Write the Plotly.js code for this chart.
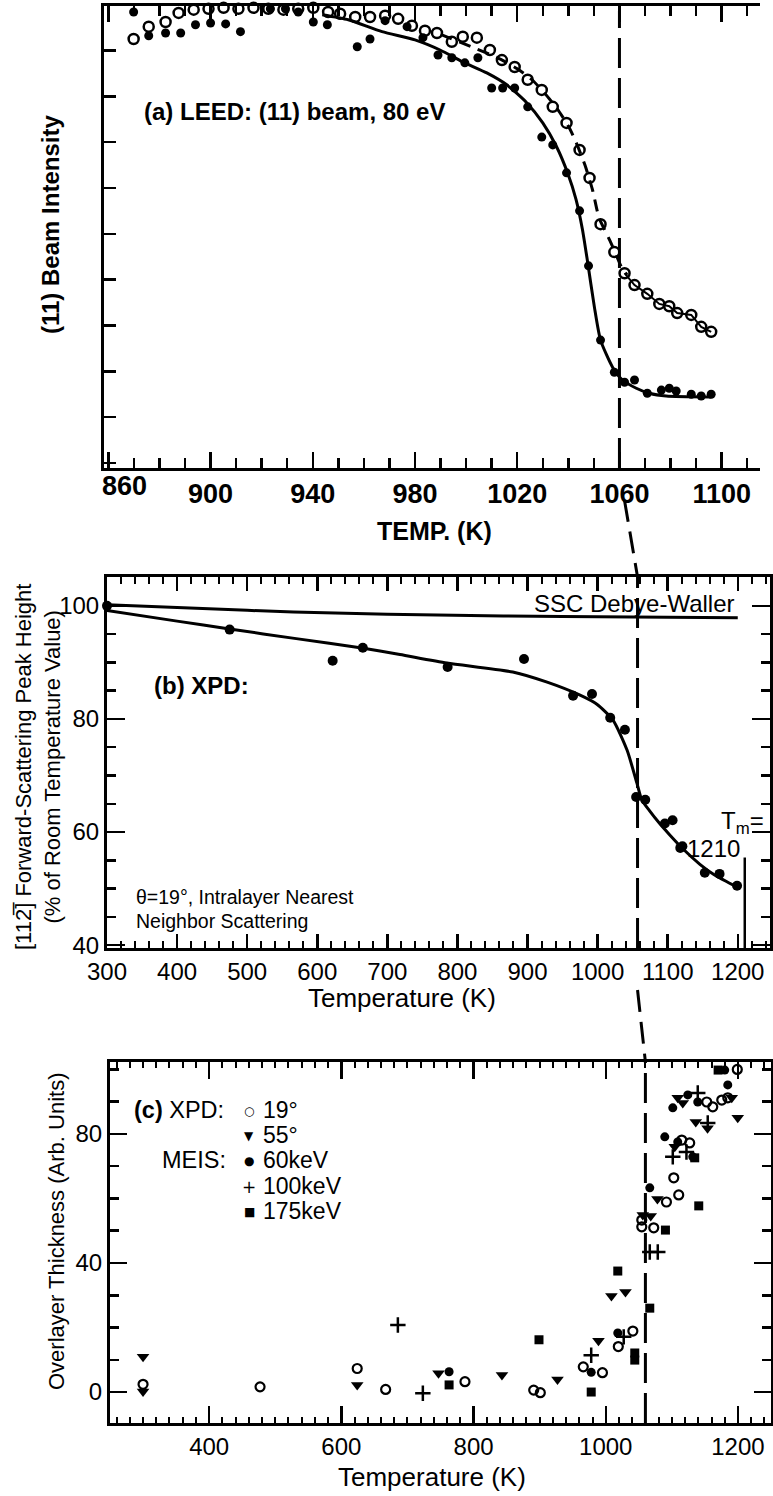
<!DOCTYPE html>
<html><head><meta charset="utf-8">
<script src="https://cdn.plot.ly/plotly-3.0.1.min.js"></script>
<style>html,body{margin:0;padding:0;background:#fff}#chart{width:773px;height:1496px}</style>
</head><body><div id="chart"></div>
<script>
// ---------- Panel (a) LEED (11) beam ----------
const leedTicks = [860, 900, 940, 980, 1020, 1060, 1100];
const leedTickText = ['', '900', '940', '980', '1020', '1060', '1100'];
const leedOpenT = [869.9, 875.8, 882.4, 887.5, 893.4, 899.2, 905.1, 910.9, 916.8, 922.6, 928.5, 934.3, 940.2, 946.0, 950.7, 956.6, 962.4, 968.3, 973.4, 978.8, 983.9, 988.6, 994.4, 998.7, 1004.2, 1009.3, 1014.0, 1019.0, 1024.1, 1029.6, 1033.9, 1039.3, 1044.4, 1048.3, 1052.6, 1058.0, 1062.0, 1065.9, 1070.9, 1075.6, 1079.5, 1082.6, 1088.1, 1092.0, 1095.9];
const leedOpenI = [8.25, 8.52, 8.62, 8.82, 8.89, 8.91, 8.93, 8.91, 8.93, 8.91, 8.89, 8.91, 8.93, 8.84, 8.80, 8.73, 8.73, 8.76, 8.69, 8.54, 8.43, 8.38, 8.19, 8.30, 8.28, 8.01, 7.79, 7.64, 7.36, 7.14, 6.77, 6.42, 5.83, 5.22, 4.21, 3.60, 3.14, 2.88, 2.69, 2.47, 2.42, 2.27, 2.23, 1.97, 1.86];
const leedFilledT = [869.9, 875.8, 882.4, 888.3, 894.1, 900.0, 905.9, 911.7, 923.4, 929.3, 934.3, 940.2, 945.7, 957.4, 962.4, 968.3, 976.9, 983.1, 989.0, 994.4, 999.5, 1004.6, 1010.0, 1014.3, 1019.0, 1024.1, 1029.6, 1033.9, 1039.3, 1044.4, 1047.9, 1052.6, 1058.0, 1062.0, 1065.9, 1070.9, 1076.4, 1079.5, 1082.2, 1088.1, 1092.0, 1095.9];
const leedFilledI = [8.84, 8.32, 8.38, 8.38, 8.56, 8.60, 8.58, 8.41, 8.91, 8.91, 8.84, 8.62, 8.56, 8.08, 8.25, 8.65, 8.52, 8.28, 7.90, 7.84, 7.73, 7.84, 7.18, 7.18, 7.18, 6.77, 6.11, 5.94, 5.33, 4.50, 3.30, 1.68, 0.98, 0.76, 0.81, 0.52, 0.59, 0.63, 0.57, 0.50, 0.46, 0.50];
const leedFitT = [943.7, 953.9, 967.1, 980.0, 989.8, 998.7, 1008.1, 1015.9, 1023.7, 1030.0, 1035.4, 1039.7, 1043.0, 1045.5, 1047.5, 1050.2, 1052.6, 1057.3, 1061.2, 1066.6, 1071.7, 1078.3, 1095.9];
const leedFitI = [8.78, 8.67, 8.41, 8.23, 8.01, 7.75, 7.51, 7.25, 6.86, 6.42, 5.90, 5.33, 4.75, 4.10, 3.40, 2.40, 1.68, 1.09, 0.81, 0.63, 0.52, 0.46, 0.44];
const leedDashT = [990, 1002, 1012, 1020, 1026, 1031, 1036, 1040, 1043, 1046.5, 1049.5, 1052, 1055, 1057.5, 1061, 1063];
const leedDashI = [8.35, 8.08, 7.85, 7.6, 7.35, 7.05, 6.7, 6.35, 6.0, 5.5, 4.95, 4.35, 4.0, 3.7, 3.25, 3.1];
const leedTc = 1060;

// ---------- Panel (b) XPD peak height ----------
const xpdTicksX = [300, 400, 500, 600, 700, 800, 900, 1000, 1100, 1200];
const xpdTicksY = [40, 60, 80, 100];
const xpdT = [300, 475, 622, 665, 786, 895, 965, 992, 1018, 1039, 1055, 1068, 1096, 1107, 1118, 1121, 1153, 1174, 1199];
const xpdH = [100.0, 95.8, 90.3, 92.6, 89.2, 90.6, 84.1, 84.4, 80.2, 78.1, 66.2, 65.7, 61.5, 62.1, 57.2, 57.5, 52.8, 52.6, 50.5];
const xpdFitT = [300, 400, 475, 570, 666, 718, 785, 879, 928, 975, 999, 1022, 1042, 1056, 1063, 1074, 1088, 1103, 1122, 1146, 1167, 1200];
const xpdFitH = [99.2, 97.3, 95.9, 94.2, 92.5, 91.4, 89.9, 88.3, 86.5, 84.2, 82.6, 79.8, 74.5, 68.7, 65.7, 63.8, 61.6, 59.5, 57.0, 54.3, 52.4, 50.2];
const dwT = [300, 500, 700, 950, 1200];
const dwH = [100.2, 99.2, 98.5, 98.1, 97.9];
const meltT = 1210;
const xpdTc = 1057;

// ---------- Panel (c) Overlayer thickness ----------
const thkTicksX = [400, 600, 800, 1000, 1200];
const thkMidTicksX = [300, 500, 700, 900, 1100];
const thkTicksY = [0, 40, 80];
const c19T = [300, 477, 624, 667, 787, 891, 901, 966, 995, 1019, 1041, 1054.5, 1054.5, 1072.6, 1091.8, 1102.9, 1110.4, 1115, 1127, 1152.8, 1161.9, 1175.5, 1184.6, 1199];
const c19V = [2.4, 1.6, 7.3, 0.8, 3.2, 0.6, -0.2, 7.8, 6.0, 14.1, 18.9, 53.3, 51.2, 50.9, 58.9, 66.4, 61.1, 78.1, 77.2, 89.9, 88.4, 90.5, 91.2, 100];
const c55T = [300, 300, 624, 747, 843, 927, 989, 1008.6, 1029.8, 1056, 1068, 1078.2, 1104.4, 1108.9, 1116.5, 1136.2, 1154, 1190.6, 1199.7];
const c55V = [10.9, 0.2, 2.2, 5.8, 5.3, 3.9, 15.9, 29.8, 31.0, 54.9, 54.6, 59.8, 76.0, 91.2, 89.6, 83.7, 81.8, 91.2, 85.0];
const c60T = [763, 978, 1018.2, 1066.6, 1089.3, 1101.4, 1108.9, 1124.1, 1131.6, 1139.2, 1180, 1184.6];
const c60V = [6.3, 6.1, 18.3, 63.3, 79.1, 88.1, 77.5, 92.1, 72.9, 89.9, 99.8, 95.2];
const c100T = [685.5, 723.3, 978, 1027.2, 1066.6, 1078.7, 1101.4, 1122.1, 1139.2, 1154.3];
const c100V = [20.8, -0.4, 11.4, 17.1, 43.4, 43.4, 72.9, 74.4, 92.7, 83.4];
const c175T = [763, 899, 978, 1018.2, 1043.9, 1043.9, 1066.6, 1090.3, 1134.6, 1140.7, 1170];
const c175V = [2.2, 16.2, 0.0, 37.5, 12.1, 9.9, 26.0, 50.2, 72.6, 57.7, 99.8];
const thkTc = 1060;

// ---------- layout geometry (pixels) ----------
const W = 773, H = 1496;
const A = {l: 104, r: 760, t: 6, b: 468, x0: 858.3, x1: 1115, y0: -1.11, y1: 8.97};
const B = {l: 107, r: 770, t: 577, b: 948, x0: 300, x1: 1246, y0: 39.5, y1: 105.1};
const C = {l: 110, r: 771, t: 1062, b: 1423, x0: 250, x1: 1250, y0: -9.6, y1: 102.3};
const FONT = 'Liberation Sans, Arial, Helvetica, sans-serif';
const px = v => v / W, py = v => 1 - v / H;
const dx = P => [P.l / W, P.r / W], dy = P => [1 - P.b / H, 1 - P.t / H];
const xPix = (P, v) => P.l + (v - P.x0) / (P.x1 - P.x0) * (P.r - P.l);

const blk = '#000';
const traces = [
  // panel a
  {x: leedFitT, y: leedFitI, mode: 'lines', line: {color: blk, width: 3, shape: 'spline', smoothing: 0.6}, xaxis: 'x', yaxis: 'y'},
  {x: leedDashT, y: leedDashI, mode: 'lines', line: {color: blk, width: 3, dash: '12px,8px', shape: 'spline', smoothing: 0.6}, xaxis: 'x', yaxis: 'y'},
  {x: leedOpenT.filter(t => t >= 1062), y: leedOpenI.filter((v, i) => leedOpenT[i] >= 1062), mode: 'lines', line: {color: blk, width: 2}, xaxis: 'x', yaxis: 'y'},
  {x: leedOpenT, y: leedOpenI, mode: 'markers', marker: {symbol: 'circle-open', size: 10, color: blk, line: {width: 2.5, color: blk}}, cliponaxis: false, xaxis: 'x', yaxis: 'y'},
  {x: leedFilledT, y: leedFilledI, mode: 'markers', marker: {symbol: 'circle', size: 9, color: blk}, cliponaxis: false, xaxis: 'x', yaxis: 'y'},
  // panel b
  {x: dwT, y: dwH, mode: 'lines', line: {color: blk, width: 3, shape: 'spline'}, xaxis: 'x2', yaxis: 'y2'},
  {x: xpdFitT, y: xpdFitH, mode: 'lines', line: {color: blk, width: 3, shape: 'spline', smoothing: 0.6}, xaxis: 'x2', yaxis: 'y2'},
  {x: xpdT, y: xpdH, mode: 'markers', marker: {symbol: 'circle', size: 10, color: blk}, cliponaxis: false, xaxis: 'x2', yaxis: 'y2'},
  // panel c
  {x: c19T, y: c19V, mode: 'markers', marker: {symbol: 'circle-open', size: 9, color: blk, line: {width: 2.2, color: blk}}, xaxis: 'x3', yaxis: 'y3', cliponaxis: false},
  {x: c55T, y: c55V, mode: 'markers', marker: {symbol: 'triangle-down', size: 11, color: blk}, xaxis: 'x3', yaxis: 'y3', cliponaxis: false},
  {x: c60T, y: c60V, mode: 'markers', marker: {symbol: 'circle', size: 9, color: blk}, xaxis: 'x3', yaxis: 'y3', cliponaxis: false},
  {x: c100T, y: c100V, mode: 'markers', marker: {symbol: 'cross-thin-open', size: 11, color: blk, line: {width: 2.5, color: blk}}, xaxis: 'x3', yaxis: 'y3', cliponaxis: false},
  {x: c175T, y: c175V, mode: 'markers', marker: {symbol: 'square', size: 9, color: blk}, xaxis: 'x3', yaxis: 'y3', cliponaxis: false}
];

const axBase = {showgrid: false, zeroline: false, ticks: 'inside', tickcolor: blk, linecolor: blk, showline: true, linewidth: 3, tickwidth: 2.5, fixedrange: true};
const tickF = {family: FONT, size: 24, color: blk};

const layout = {
  width: W, height: H, margin: {l: 0, r: 0, t: 0, b: 0},
  paper_bgcolor: '#fff', plot_bgcolor: '#fff', showlegend: false,
  font: {family: FONT, color: blk, size: 22},
  xaxis: Object.assign({}, axBase, {domain: dx(A), anchor: 'y', range: [A.x0, A.x1], tickmode: 'array', tickvals: leedTicks, ticktext: leedTickText, ticklen: 16, mirror: 'ticks',
    tickfont: {family: FONT, size: 27, weight: 'bold', color: blk},
    minor: {tickmode: 'linear', tick0: 860, dtick: 10, ticks: 'inside', ticklen: 10, tickwidth: 2.5, tickcolor: blk, showgrid: false}}),
  yaxis: Object.assign({}, axBase, {domain: dy(A), anchor: 'x', range: [A.y0, A.y1], tickmode: 'linear', tick0: 0, dtick: 1, ticklen: 12, showticklabels: false}),
  yaxis4: Object.assign({}, axBase, {overlaying: 'y', anchor: 'x', side: 'right', range: [A.y0, A.y1], tickmode: 'linear', tick0: 0, dtick: 1, ticklen: 7, showline: false, showticklabels: false}),
  xaxis2: Object.assign({}, axBase, {domain: dx(B), anchor: 'y2', range: [B.x0, B.x1], tickmode: 'array', tickvals: xpdTicksX, ticklen: 14, mirror: 'ticks',
    tickfont: tickF,
    minor: {tickmode: 'linear', tick0: 300, dtick: 20, ticks: 'inside', ticklen: 7, tickwidth: 2, tickcolor: blk, showgrid: false}}),
  yaxis2: Object.assign({}, axBase, {domain: dy(B), anchor: 'x2', range: [B.y0, B.y1], tickmode: 'array', tickvals: xpdTicksY, ticklen: 18, mirror: 'ticks',
    tickfont: tickF,
    minor: {tickmode: 'linear', tick0: 40, dtick: 5, ticks: 'inside', ticklen: 9, tickwidth: 2.5, tickcolor: blk, showgrid: false}}),
  xaxis3: Object.assign({}, axBase, {domain: dx(C), anchor: 'y3', range: [C.x0, C.x1], tickmode: 'array', tickvals: thkTicksX, ticklen: 17, mirror: 'ticks',
    tickfont: tickF,
    minor: {tickmode: 'linear', tick0: 300, dtick: 20, ticks: 'inside', ticklen: 6, tickwidth: 2, tickcolor: blk, showgrid: false}}),
  xaxis4: Object.assign({}, axBase, {overlaying: 'x3', anchor: 'y3', side: 'bottom', range: [C.x0, C.x1], tickmode: 'array', tickvals: thkMidTicksX, ticklen: 11, showline: false, showticklabels: false}),
  yaxis3: Object.assign({}, axBase, {domain: dy(C), anchor: 'x3', range: [C.y0, C.y1], tickmode: 'array', tickvals: thkTicksY, ticklen: 17, mirror: 'ticks',
    tickfont: tickF,
    minor: {tickmode: 'linear', tick0: 0, dtick: 10, ticks: 'inside', ticklen: 9, tickwidth: 2.5, tickcolor: blk, showgrid: false}}),
  shapes: [
    {type: 'line', xref: 'x', yref: 'y', x0: leedTc, x1: leedTc, y0: A.y0, y1: A.y1 - 0.1, line: {color: blk, width: 3, dash: '30px,10px'}},
    {type: 'line', xref: 'paper', yref: 'paper', x0: px(xPix(A, leedTc) + 5), y0: py(500), x1: px(xPix(B, xpdTc)), y1: py(B.t), line: {color: blk, width: 3, dash: '22px,10px'}},
    {type: 'line', xref: 'x2', yref: 'y2', x0: xpdTc, x1: xpdTc, y0: B.y0, y1: B.y1, line: {color: blk, width: 3, dash: '30px,10px'}},
    {type: 'line', xref: 'paper', yref: 'paper', x0: px(xPix(B, xpdTc)), y0: py(990), x1: px(xPix(C, thkTc)), y1: py(C.t), line: {color: blk, width: 3, dash: '22px,10px'}},
    {type: 'line', xref: 'x3', yref: 'y3', x0: thkTc, x1: thkTc, y0: C.y0, y1: C.y1, line: {color: blk, width: 3, dash: '30px,10px'}},
    {type: 'line', xref: 'x2', yref: 'y2', x0: meltT, x1: meltT, y0: B.y0, y1: 55.5, line: {color: blk, width: 2.5}}
  ],
  annotations: []
};

function ann(text, x, y, opts) {
  layout.annotations.push(Object.assign({text: text, xref: 'paper', yref: 'paper', x: px(x), y: py(y), showarrow: false,
    xanchor: 'center', yanchor: 'middle', font: {family: FONT, size: 24, color: blk}}, opts || {}));
}
// panel a texts
ann('860', 124, 486, {font: {family: FONT, size: 27, weight: 'bold', color: blk}});
ann('(a) LEED: (11) beam, 80 eV', 142, 112, {xanchor: 'left', font: {family: FONT, size: 24, weight: 'bold', color: blk}});
ann('(11) Beam Intensity', 50, 225, {textangle: -90, font: {family: FONT, size: 24, weight: 'bold', color: blk}});
ann('TEMP. (K)', 434, 531, {font: {family: FONT, size: 25, weight: 'bold', color: blk}});
// panel b texts
ann('[11' + '2\u0305' + '] Forward-Scattering Peak Height<br>(% of Room Temperature Value)', 38, 767, {textangle: -90, font: {family: FONT, size: 22, color: blk}});
ann('(b) XPD:', 152, 686, {xanchor: 'left', font: {family: FONT, size: 24, weight: 'bold', color: blk}});
ann('SSC Debye-Waller', 532, 603, {xanchor: 'left'});
ann('\u03b8=19\u00b0, Intralayer Nearest', 134, 897, {xanchor: 'left', font: {family: FONT, size: 19.5, color: blk}});
ann('Neighbor Scattering', 134, 921, {xanchor: 'left', font: {family: FONT, size: 19.5, color: blk}});
ann('T<sub>m</sub>=', 742, 822);
ann('1210', 742, 848, {xanchor: 'right'});
ann('Temperature (K)', 402, 998, {font: {family: FONT, size: 26, color: blk}});
// panel c texts
ann('<b>(c)</b> XPD:', 132, 1110, {xanchor: 'left', font: {family: FONT, size: 23.5, color: blk}});
ann('MEIS:', 160, 1160, {xanchor: 'left', font: {family: FONT, size: 23.5, color: blk}});
const legendSyms = ['\u25cb', '\u25bc', '\u25cf', '+', '\u25a0'];
const legendText = ['19\u00b0', '55\u00b0', '60keV', '100keV', '175keV'];
const legendY = [1110, 1135, 1160, 1186, 1211];
legendText.forEach((t, i) => {
  ann(legendSyms[i], 249, legendY[i] + 1, {font: {family: 'DejaVu Sans', size: i === 3 ? 17 : 12, color: blk}});
  ann(t, 261, legendY[i], {xanchor: 'left', font: {family: FONT, size: 23, color: blk}});
});
ann('Overlayer Thickness (Arb. Units)', 56, 1232, {textangle: -90, font: {family: FONT, size: 22, color: blk}});
ann('Temperature (K)', 432, 1477, {font: {family: FONT, size: 26, color: blk}});

Plotly.newPlot('chart', traces, layout, {staticPlot: true, displayModeBar: false});
</script></body></html>
